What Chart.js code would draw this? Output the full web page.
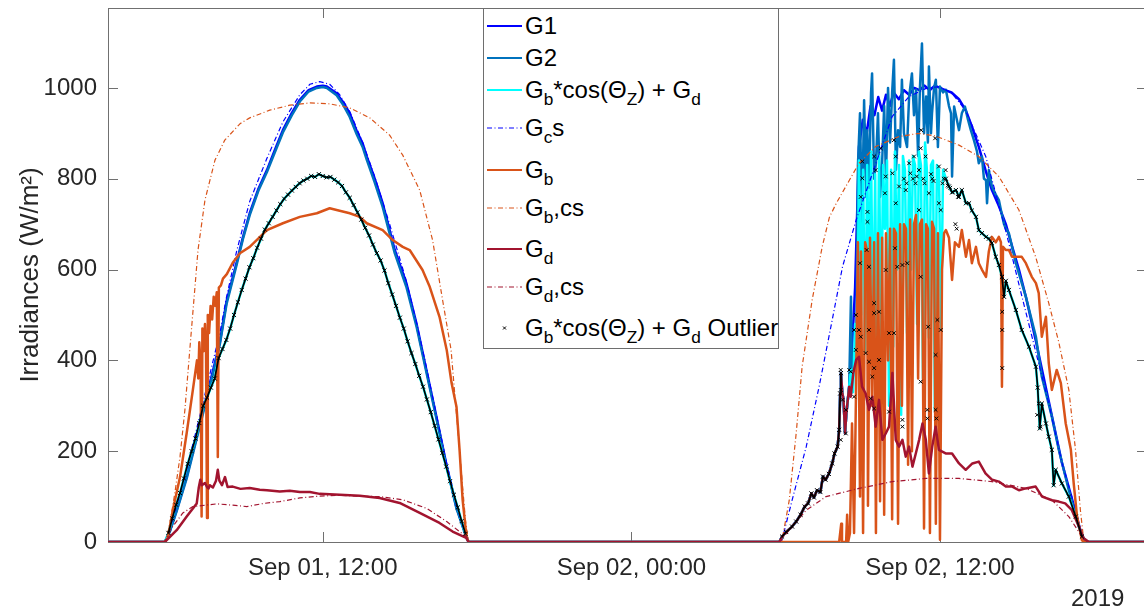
<!DOCTYPE html>
<html>
<head>
<meta charset="utf-8">
<title>Irradiances</title>
<script src="https://cdn.jsdelivr.net/npm/chart.js@4.4.1/dist/chart.umd.min.js"></script>
<style>
  html, body { margin: 0; padding: 0; background: #fff; overflow: hidden; }
  #wrap { position: relative; width: 1152px; height: 611px; }
  #chart { position: absolute; left: 0; top: 0; }
  #legend {
    position: absolute; left: 483px; top: 8px; width: 294px; height: 339px;
    border: 1px solid #6e6e6e; background: #fff;
    font-family: 'Liberation Sans', Arial, sans-serif; font-size: 24px; color: #000;
  }
  .row { position: absolute; left: 0; height: 28px; line-height: 28px; display: flex; align-items: center; white-space: nowrap; }
  .row svg { margin: 0 3px 0 3px; flex: none; }
  .row sub { font-size: 0.72em; line-height: 0; position: relative; top: 0.42em; vertical-align: baseline; }
  #year { position: absolute; left: 1071px; top: 584px; font: 24px 'Liberation Sans', Arial, sans-serif; color: #262626; }
</style>
</head>
<body>
<div id="wrap">
  <canvas id="chart" width="1152" height="611"></canvas>
  <div id="legend"></div>
  <div id="year">2019</div>
</div>
<script>
// hours counted from Sep 01 00:00
const xTickHours = [12, 24, 36];
const xTickLabels = ['Sep 01, 12:00', 'Sep 02, 00:00', 'Sep 02, 12:00'];
const yTickValues = [0, 200, 400, 600, 800, 1000];

const legendLabels = [
  'G1',
  'G2',
  'G<sub>b</sub>*cos(&Theta;<sub>Z</sub>) + G<sub>d</sub>',
  'G<sub>c</sub>s',
  'G<sub>b</sub>',
  'G<sub>b</sub>,cs',
  'G<sub>d</sub>',
  'G<sub>d</sub>,cs',
  'G<sub>b</sub>*cos(&Theta;<sub>Z</sub>) + G<sub>d</sub> Outlier'
];

// ---- day 1 ----
const g1Day1Hours = [5.86,6.06,6.32,6.71,7.10,7.42,7.74,8.00,8.26,8.65,8.90,9.16,9.50,9.83,10.15,10.45,10.80,11.11,11.45,11.77,12.00,12.16,12.54,12.80,13.05,13.32,13.55,13.71,14.02,14.33,14.80,15.25,15.64,16.03,16.42,16.80,17.19,17.58,17.67];
const g1Day1Values = [0,25,70,144,232,306,379,440,530,615,672,724,778,819,865,907,945,974,995,1003,1005,1003,988,968,944,905,878,849,800,746,643,570,482,379,276,173,78,12,0];
const g2Day1Values = [0,24,68,140,228,300,372,436,524,610,668,720,774,815,860,902,940,970,992,1000,1002,1000,984,962,936,898,870,842,792,738,636,562,476,374,272,170,76,11,0];

const cyanDay1Hours = [5.86,6.00,6.15,6.30,6.45,6.60,6.75,6.90,7.05,7.20,7.35,7.50,7.65,7.80,7.95,8.10,8.25,8.40,8.55,8.70,8.85,9.00,9.15,9.30,9.45,9.60,9.75,9.90,10.05,10.20,10.35,10.50,10.65,10.80,10.95,11.10,11.25,11.40,11.55,11.70,11.85,12.00,12.15,12.30,12.45,12.60,12.75,12.90,13.05,13.20,13.35,13.50,13.65,13.80,13.95,14.10,14.25,14.40,14.55,14.70,14.85,15.00,15.15,15.30,15.45,15.60,15.75,15.90,16.05,16.20,16.35,16.50,16.65,16.80,16.95,17.10,17.25,17.40,17.55,17.67];
const cyanDay1Values = [0,20,52,82,108,140,172,200,228,262,300,318,340,360,405,425,445,470,500,528,555,580,605,625,648,668,688,702,716,730,744,756,765,774,782,790,796,800,806,804,810,806,803,804,798,792,784,770,758,742,726,710,692,675,655,636,620,598,570,545,520,494,470,442,416,392,366,342,314,286,256,226,196,166,134,104,76,46,18,0];

const gcsDay1Hours = [5.86,6.06,6.32,6.71,7.10,7.42,7.74,8.00,8.26,8.65,9.16,9.83,10.45,11.11,11.50,11.88,12.27,12.66,13.05,13.55,14.02,14.60,15.25,15.64,16.03,16.42,16.80,17.19,17.58,17.67];
const gcsDay1Values = [0,30,80,160,250,325,400,460,540,640,750,845,925,985,1008,1014,1008,985,948,880,805,700,575,485,385,280,178,82,12,0];

const gbDay1Hours = [5.86,5.98,6.17,6.45,6.71,6.95,7.11,7.16,7.20,7.25,7.29,7.32,7.37,7.42,7.46,7.50,7.53,7.58,7.64,7.70,7.76,7.82,7.88,7.92,7.96,8.04,8.12,8.27,8.50,8.78,9.16,9.83,10.45,11.11,11.77,12.27,12.54,13.05,13.44,13.71,14.33,14.72,15.11,15.38,15.88,16.16,16.54,16.82,17.01,17.20,17.32,17.44,17.59,17.67];
const gbDay1Values = [0,10,70,143,240,335,400,360,440,390,56,470,420,480,430,53,500,460,520,490,540,520,550,187,560,565,580,590,615,636,650,687,702,716,724,735,731,724,716,702,687,665,650,643,599,562,496,423,350,298,203,92,12,0];

const gbcsDay1Hours = [5.86,6.02,6.10,6.25,6.45,6.64,6.83,7.15,7.42,7.81,8.19,8.78,9.16,9.94,10.72,11.50,12.27,13.05,13.83,14.60,15.11,15.77,16.27,16.66,16.99,17.13,17.32,17.44,17.55,17.67];
const gbcsDay1Values = [0,30,56,108,188,291,423,643,753,841,885,921,934,951,962,967,965,956,934,896,852,775,665,533,423,328,203,120,48,0];

const gdDay1Hours = [5.86,6.32,6.71,7.10,7.18,7.24,7.30,7.42,7.50,7.56,7.61,7.73,7.85,7.92,7.98,8.08,8.20,8.30,8.50,8.80,9.16,9.55,9.83,10.33,10.72,11.11,11.50,11.88,12.27,12.66,13.05,13.44,14.21,14.99,15.77,16.54,17.05,17.58,17.67];
const gdDay1Values = [0,26,56,85,120,137,125,130,121,118,125,120,135,159,135,125,143,121,122,117,119,115,114,111,113,110,110,106,105,104,103,102,97,86,64,42,23,9,0];

const gdcsDay1Hours = [5.86,6.06,6.56,6.95,7.42,7.88,8.50,9.05,9.70,10.33,11.11,11.88,12.66,13.44,14.21,15.11,16.04,16.82,17.32,17.59,17.67];
const gdcsDay1Values = [0,26,64,78,81,84,81,78,85,89,97,101,103,101,100,93,74,45,23,12,0];

// ---- day 2 ----
const gdDay2Hours = [29.75,29.86,30.02,30.25,30.41,30.58,30.74,30.87,31.00,31.10,31.22,31.35,31.45,31.55,31.68,31.81,31.90,32.02,32.08,32.12,32.15,32.20,32.25,32.31,32.36,32.47,32.53,32.63,32.74,32.85,32.97,33.11,33.24,33.37,33.50,33.63,33.76,33.89,34.02,34.15,34.28,34.41,34.54,34.67,34.80,34.93,35.06,35.19,35.32,35.45,35.57,35.70,35.83,35.96,36.22,36.47,36.74,37.00,37.26,37.51,37.77,38.03,38.29,38.56,38.81,39.07,39.33,39.72,39.97,40.36,40.62,40.87,41.13,41.40,41.59,41.79];
const gdDay2Values = [0,12,22,34,45,60,78,85,107,98,114,110,144,137,150,173,195,210,247,327,372,330,313,239,283,342,320,372,401,408,342,327,291,320,254,313,225,239,254,372,225,210,225,188,210,166,195,225,261,225,151,210,254,203,195,195,173,159,173,177,151,137,133,122,122,114,118,122,100,92,89,85,70,34,8,0];

const g1Day2Hours = [32.54,32.70,32.85,33.00,33.15,33.30,33.45,33.60,33.75,33.90,34.05,34.20,34.40,34.60,34.80,35.00,35.20,35.40,35.60,35.80,36.00,36.20,36.45,36.74,37.01,37.24,37.51,37.79,38.02,38.29,38.56,38.81,39.07,39.34,39.72,40.23,40.74,41.28,41.52,41.67];
const g1Day2Values = [380,560,870,930,900,960,940,980,950,985,960,990,975,995,985,1000,995,1005,995,1005,1000,995,990,975,950,915,870,815,775,740,700,650,600,540,445,310,175,65,12,0];

const g2Day2Hours = [32.54,32.58,32.66,32.74,32.81,32.89,32.97,33.05,33.13,33.17,33.24,33.32,33.36,33.44,33.51,33.59,33.67,33.75,33.83,33.90,33.98,34.06,34.14,34.21,34.29,34.37,34.45,34.52,34.60,34.72,34.80,34.91,34.99,35.07,35.15,35.22,35.30,35.38,35.46,35.53,35.57,35.65,35.69,35.77,35.84,35.92,36.00,36.12,36.23,36.35,36.43,36.47,36.55,36.62,36.74,36.85,36.97,37.09,37.20,37.32,37.44,37.51,37.63,37.71,37.79,37.83,37.90,38.02,38.17,38.29,38.41,38.49,38.56,38.68,38.95,39.34,39.73,39.96,40.35,40.62,41.01,41.40,41.59,41.71];
const g2Day2Values = [540,330,420,400,830,944,700,973,760,907,780,990,1032,800,834,944,760,834,960,800,1000,880,990,1062,820,907,870,1018,900,870,980,1032,940,996,850,1000,1098,900,981,880,1047,900,944,1000,1018,870,1003,990,996,960,944,805,959,940,907,944,959,930,907,885,860,834,849,800,797,746,819,783,765,753,720,700,690,680,614,540,452,364,276,203,114,34,8,0];

const cyanDay2Hours = [32.54,32.62,32.70,32.78,32.85,32.93,33.01,33.09,33.17,33.24,33.32,33.40,33.48,33.55,33.63,33.71,33.79,33.86,33.94,34.02,34.10,34.18,34.25,34.33,34.41,34.49,34.56,34.64,34.72,34.80,34.88,34.95,35.03,35.11,35.18,35.26,35.34,35.42,35.49,35.57,35.65,35.73,35.80,35.88,35.96,36.04,36.12,36.23,36.35,36.47,36.62,36.74,36.85,37.01,37.13,37.24,37.40,37.51,37.63,37.79,37.90,38.02,38.17,38.29,38.41,38.49,38.56,38.68,38.95,39.18,39.46,39.73,39.80,39.88,39.96,40.12,40.23,40.35,40.42,40.50,40.74,41.01,41.28,41.52,41.67];
const cyanDay2Values = [380,330,480,400,840,500,820,420,830,560,860,430,810,320,850,450,830,690,840,300,820,430,860,600,830,280,850,820,460,840,600,850,830,480,860,830,360,880,820,450,830,840,290,830,820,470,820,800,783,770,775,760,775,746,746,730,716,687,680,672,668,658,628,610,584,540,575,555,511,467,430,386,340,250,305,261,232,203,125,159,129,100,56,12,0];

const gcsDay2Hours = [29.75,29.86,30.25,30.80,31.30,31.81,32.21,32.74,33.51,34.14,34.80,35.46,35.96,36.47,36.99,37.78,38.55,39.19,39.72,40.23,40.75,41.28,41.54,41.65];
const gcsDay2Values = [0,5,92,210,342,489,606,709,834,937,981,999,1003,988,951,849,687,540,420,305,173,70,12,0];

const gbDay2Hours = [29.75,32.08,32.16,32.19,32.35,32.39,32.43,32.50,32.58,32.66,32.74,32.81,32.89,32.93,33.01,33.09,33.17,33.20,33.28,33.36,33.44,33.51,33.59,33.67,33.75,33.83,33.90,33.98,34.06,34.14,34.21,34.29,34.37,34.45,34.52,34.60,34.68,34.76,34.84,34.91,34.99,35.07,35.15,35.22,35.30,35.38,35.46,35.53,35.61,35.69,35.77,35.84,35.92,36.00,36.08,36.16,36.23,36.35,36.47,36.58,36.74,36.85,37.01,37.13,37.24,37.40,37.51,37.63,37.79,37.90,38.02,38.17,38.29,38.37,38.41,38.45,38.56,38.68,38.80,39.18,39.34,39.57,39.73,39.84,39.96,40.12,40.23,40.35,40.54,40.70,40.89,41.09,41.20,41.33,41.52,41.59];
const gbDay2Values = [0,0,40,0,0,60,0,20,261,20,350,660,100,640,20,660,640,80,670,300,660,20,680,90,670,60,680,400,690,50,690,680,40,700,300,700,690,170,710,200,700,720,360,700,710,30,700,690,20,705,690,40,680,5,600,680,687,670,577,660,650,687,628,665,614,650,614,600,584,640,672,660,672,660,342,650,643,643,628,628,614,584,570,548,452,496,394,335,379,350,261,203,129,56,4,0];

const gbcsDay2Hours = [29.75,29.86,30.14,30.41,30.64,31.03,31.42,31.70,31.96,32.21,32.85,33.50,34.41,35.18,35.83,36.74,37.51,38.29,39.07,39.72,40.23,40.62,41.01,41.27,41.46,41.59,41.65];
const gbcsDay2Values = [0,4,92,240,386,533,650,715,745,770,834,871,893,900,894,874,849,805,731,628,526,440,335,203,70,4,0];

const gdcsDay2Hours = [29.75,30.25,30.80,31.57,32.85,34.14,35.46,36.74,38.02,39.34,40.36,41.01,41.52,41.70];
const gdcsDay2Values = [0,34,70,100,118,133,140,140,133,118,92,56,12,0];

const outlierDay2Hours = [32.14,32.14,32.21,32.14,32.34,32.34,32.47,32.53,32.66,32.66,32.73,32.73,32.85,32.89,32.92,32.92,32.98,32.98,33.11,33.15,33.18,33.18,33.24,33.24,33.24,33.31,33.37,33.44,33.44,33.44,33.44,33.44,33.50,33.63,33.63,33.70,33.86,33.89,33.89,34.02,34.02,34.15,34.21,34.21,34.25,34.28,34.28,34.34,34.41,34.54,34.54,34.54,34.60,34.67,34.70,34.73,34.80,34.85,34.95,34.99,35.05,35.10,35.18,35.18,35.25,35.25,35.25,35.27,35.35,35.40,35.44,35.51,35.51,35.54,35.57,35.65,35.70,35.75,35.81,35.83,35.83,35.86,35.90,35.96,35.96,36.03,36.03,36.10,36.15,36.22,36.30,36.40,36.50,36.60,36.65,36.70,38.42,38.42,38.42,38.42,39.78,39.84,39.91];
const outlierDay2Values = [379,335,313,225,291,239,379,375,320,467,500,423,467,614,760,452,838,801,416,643,727,705,606,467,397,316,364,849,526,504,383,294,819,507,401,867,768,805,599,460,287,812,885,460,647,849,746,606,783,610,269,254,800,775,790,614,834,812,800,849,790,805,819,731,867,584,353,907,800,790,849,291,272,474,768,810,800,795,889,412,291,272,489,827,746,731,467,790,800,819,785,780,770,700,690,760,584,507,467,383,280,305,254];

const xStart = 3.65, xEnd = 44.05;

function toPoints(hours, values) {
  return hours.map((h, i) => ({ x: h, y: values[i] }));
}
function twoDays(day1, day2) {
  return [{ x: xStart, y: 0 }, ...day1, ...day2, { x: xEnd, y: 0 }];
}

// before the sun gets through, G1, G2 and Gb*cos+Gd equal Gd
const gdEarly = toPoints(gdDay2Hours, gdDay2Values).filter(p => p.x <= 32.47);

const g1Data = twoDays(toPoints(g1Day1Hours, g1Day1Values), [...gdEarly, ...toPoints(g1Day2Hours, g1Day2Values)]);
const g2Data = twoDays(toPoints(g1Day1Hours, g2Day1Values), [...gdEarly, ...toPoints(g2Day2Hours, g2Day2Values)]);
const cyanData = twoDays(toPoints(cyanDay1Hours, cyanDay1Values), [...gdEarly, ...toPoints(cyanDay2Hours, cyanDay2Values)]);
const gcsData = twoDays(toPoints(gcsDay1Hours, gcsDay1Values), toPoints(gcsDay2Hours, gcsDay2Values));
const gbData = twoDays(toPoints(gbDay1Hours, gbDay1Values), toPoints(gbDay2Hours, gbDay2Values));
const gbcsData = twoDays(toPoints(gbcsDay1Hours, gbcsDay1Values), toPoints(gbcsDay2Hours, gbcsDay2Values));
const gdData = twoDays(toPoints(gdDay1Hours, gdDay1Values), toPoints(gdDay2Hours, gdDay2Values));
const gdcsData = twoDays(toPoints(gdcsDay1Hours, gdcsDay1Values), toPoints(gdcsDay2Hours, gdcsDay2Values));

// runs of consecutive outliers (nearly every minute flagged) and the scattered ones
const outlierRuns = [
  ...toPoints(cyanDay1Hours, cyanDay1Values).filter(p => p.y > 0),
  { x: 20, y: null },
  ...toPoints(gdDay2Hours, gdDay2Values).filter(p => p.x > 29.8 && p.x < 32.2),
  { x: 34, y: null },
  ...toPoints(cyanDay2Hours, cyanDay2Values).filter(p => p.x > 36.2 && p.y > 0)
];
const outlierScattered = toPoints(outlierDay2Hours, outlierDay2Values);

const dashDot = [5, 2.5, 1, 2.5];
const seriesStyle = [
  { data: g1Data, color: '#0000ff', width: 2.5, dash: [] },
  { data: g2Data, color: '#0072bd', width: 2.5, dash: [] },
  { data: cyanData, color: '#00ffff', width: 2.5, dash: [] },
  { data: gcsData, color: '#0000ff', width: 1.2, dash: dashDot },
  { data: gbData, color: '#d95319', width: 2.5, dash: [] },
  { data: gbcsData, color: '#d95319', width: 1.2, dash: dashDot },
  { data: gdData, color: '#a2142f', width: 2.5, dash: [] },
  { data: gdcsData, color: '#a2142f', width: 1.2, dash: dashDot },
  { data: outlierScattered, color: '#000000', width: 1, dash: [], marker: true },
  { data: outlierRuns, color: '#000000', width: 1.7, dash: [], marker: true, run: true }
];

const datasets = seriesStyle.map((s, i) => ({
  label: i < legendLabels.length ? legendLabels[i].replace(/<[^>]+>/g, '').replace('&Theta;', 'Θ') : 'Outlier runs',
  data: s.data,
  borderColor: s.color,
  backgroundColor: s.color,
  borderWidth: s.width,
  borderDash: s.dash,
  borderJoinStyle: 'round',
  showLine: !s.marker || !!s.run,
  spanGaps: false,
  pointRadius: s.marker ? (s.run ? 2.9 : 2.6) : 0,
  pointStyle: 'crossRot',
  pointBorderWidth: 1,
  pointBorderColor: s.color,
  tension: 0,
  fill: false,
  order: seriesStyle.length - 1 - Math.min(i, 8)   // later series drawn on top, like MATLAB
}));

// MATLAB style box with inward tick marks
const boxPlugin = {
  id: 'matlabBox',
  beforeDatasetsDraw(chart) {
    const { ctx, chartArea: a, scales: { x, y } } = chart;
    ctx.save();
    ctx.strokeStyle = '#707070';
    ctx.lineWidth = 1;
    ctx.strokeRect(a.left + 0.5, a.top + 0.5, a.right - a.left, a.bottom - a.top);
    ctx.beginPath();
    x.ticks.forEach(t => {
      const px = Math.round(x.getPixelForValue(t.value)) + 0.5;
      ctx.moveTo(px, a.bottom); ctx.lineTo(px, a.bottom - 10);
      ctx.moveTo(px, a.top); ctx.lineTo(px, a.top + 10);
    });
    y.ticks.forEach(t => {
      const py = Math.round(y.getPixelForValue(t.value)) + 0.5;
      ctx.moveTo(a.left, py); ctx.lineTo(a.left + 10, py);
      ctx.moveTo(a.right, py); ctx.lineTo(a.right - 10, py);
    });
    ctx.stroke();
    ctx.restore();
  }
};

Chart.defaults.font.family = "'Liberation Sans', Arial, sans-serif";
Chart.defaults.color = '#262626';

const chart = new Chart(document.getElementById('chart'), {
  type: 'line',
  data: { datasets },
  options: {
    responsive: false,
    animation: false,
    events: [],
    layout: { padding: { top: 8, right: 4, left: 0, bottom: 0 } },
    plugins: { legend: { display: false }, tooltip: { enabled: false } },
    scales: {
      x: {
        type: 'linear',
        min: xStart,
        max: xEnd,
        grid: { display: false, drawTicks: false },
        border: { display: false },
        afterBuildTicks: s => { s.ticks = xTickHours.map(v => ({ value: v })); },
        afterFit: s => { s.height = 69; s.paddingLeft = 0; s.paddingRight = 0; },
        ticks: {
          callback: v => xTickLabels[xTickHours.indexOf(v)],
          font: { size: 24 },
          padding: 12,
          maxRotation: 0,
          autoSkip: false
        }
      },
      y: {
        type: 'linear',
        min: 0,
        max: 1176,
        grid: { display: false, drawTicks: false },
        border: { display: false },
        afterBuildTicks: s => { s.ticks = yTickValues.map(v => ({ value: v })); },
        afterFit: s => { s.width = 108; s.paddingTop = 0; s.paddingBottom = 0; },
        ticks: { callback: v => String(v), font: { size: 24 }, padding: 11 },
        title: {
          display: true,
          text: 'Irradiances (W/m²)',
          font: { size: 26 },
          padding: { top: 15, bottom: 0 }
        }
      }
    }
  },
  plugins: [boxPlugin]
});

// legend with sub-scripts, built from the dataset styles
const legendRowCenters = [17, 49, 81, 119, 161, 199, 240, 278, 319];
const legendEl = document.getElementById('legend');
legendLabels.forEach((label, i) => {
  const s = seriesStyle[i];
  const row = document.createElement('div');
  row.className = 'row';
  row.style.top = (legendRowCenters[i] - 14) + 'px';
  let sample;
  if (s.marker) {
    sample = '<line x1="16" y1="12.5" x2="19" y2="15.5" stroke="#000" stroke-width="1"/>' +
             '<line x1="16" y1="15.5" x2="19" y2="12.5" stroke="#000" stroke-width="1"/>';
  } else {
    sample = '<line x1="0" y1="14" x2="35" y2="14" stroke="' + s.color + '" stroke-width="' +
             Math.min(s.width, 2.2) + '" stroke-dasharray="' + s.dash.join(' ') + '"/>';
  }
  row.innerHTML = '<svg width="35" height="28">' + sample + '</svg><span>' + label + '</span>';
  legendEl.appendChild(row);
});
</script>
</body>
</html>
